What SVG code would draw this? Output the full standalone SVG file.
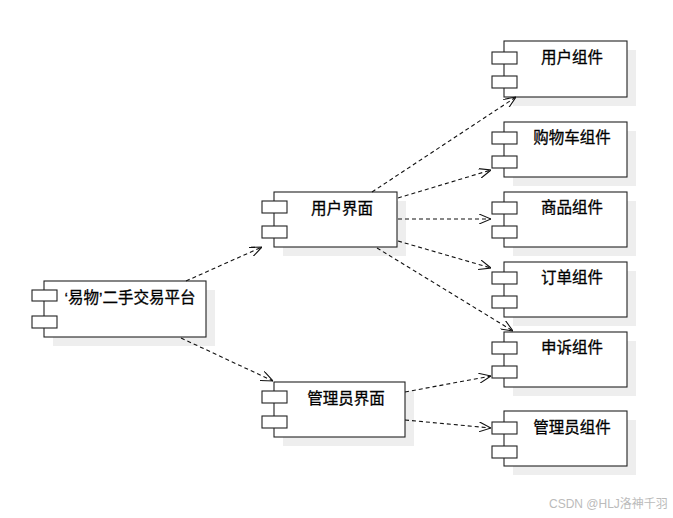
<svg xmlns="http://www.w3.org/2000/svg" width="673" height="518" viewBox="0 0 673 518">
<style>
.shadow{fill:#eeeeee;stroke:none}
.box{fill:#ffffff;stroke:#222222;stroke-width:1.1}
.port{fill:#ffffff;stroke:#222222;stroke-width:1.1}
.label{font-family:"Liberation Sans","Noto Sans CJK SC",sans-serif;font-size:15.5px;fill:#000000;stroke:#000000;stroke-width:0.3;text-anchor:middle}
.conn{fill:none;stroke:#111111;stroke-width:1.1;stroke-dasharray:4,3}
.wm{font-family:"Liberation Sans","Noto Sans CJK SC",sans-serif;font-size:12px;fill:#bbbbbb}
</style>
<defs>
<marker id="arrow" viewBox="0 0 12 10" markerWidth="12" markerHeight="10" refX="12" refY="5" orient="auto" markerUnits="userSpaceOnUse">
<path d="M0,0 L12,5 L0,10" fill="none" stroke="#111111" stroke-width="1.1"/>
</marker>
</defs>
<rect width="673" height="518" fill="#ffffff"/>

<g id="node-main">
<rect class="shadow" x="53" y="290" width="162" height="56"/>
<rect class="box" x="44" y="281" width="162" height="56"/>
<rect class="port" x="32" y="290" width="25" height="11"/>
<rect class="port" x="32" y="316" width="25" height="12"/>
<text class="label" x="130" y="303">‘易物’二手交易平台</text>
</g>

<g id="node-user-ui">
<rect class="shadow" x="283" y="201" width="123" height="55"/>
<rect class="box" x="274" y="192" width="123" height="55"/>
<rect class="port" x="262" y="201" width="25" height="12"/>
<rect class="port" x="262" y="226" width="25" height="12"/>
<text class="label" x="342" y="214">用户界面</text>
</g>

<g id="node-admin-ui">
<rect class="shadow" x="283" y="391" width="131" height="55"/>
<rect class="box" x="274" y="382" width="131" height="55"/>
<rect class="port" x="262" y="391" width="25" height="12"/>
<rect class="port" x="262" y="416" width="25" height="12"/>
<text class="label" x="346" y="404">管理员界面</text>
</g>

<g id="node-user-comp">
<rect class="shadow" x="513" y="50" width="123" height="56"/>
<rect class="box" x="504" y="41" width="123" height="56"/>
<rect class="port" x="492" y="52" width="25" height="12"/>
<rect class="port" x="492" y="76" width="25" height="12"/>
<text class="label" x="572" y="63">用户组件</text>
</g>

<g id="node-cart-comp">
<rect class="shadow" x="513" y="131" width="123" height="55"/>
<rect class="box" x="504" y="122" width="123" height="55"/>
<rect class="port" x="492" y="132" width="25" height="12"/>
<rect class="port" x="492" y="156" width="25" height="12"/>
<text class="label" x="572" y="143">购物车组件</text>
</g>

<g id="node-goods-comp">
<rect class="shadow" x="513" y="201" width="123" height="55"/>
<rect class="box" x="504" y="192" width="123" height="55"/>
<rect class="port" x="492" y="202" width="25" height="12"/>
<rect class="port" x="492" y="226" width="25" height="12"/>
<text class="label" x="572" y="213">商品组件</text>
</g>

<g id="node-order-comp">
<rect class="shadow" x="513" y="271" width="123" height="55"/>
<rect class="box" x="504" y="262" width="123" height="55"/>
<rect class="port" x="492" y="272" width="25" height="12"/>
<rect class="port" x="492" y="296" width="25" height="12"/>
<text class="label" x="572" y="283">订单组件</text>
</g>

<g id="node-complaint-comp">
<rect class="shadow" x="513" y="341" width="123" height="55"/>
<rect class="box" x="504" y="332" width="123" height="55"/>
<rect class="port" x="492" y="342" width="25" height="12"/>
<rect class="port" x="492" y="366" width="25" height="12"/>
<text class="label" x="572" y="353">申诉组件</text>
</g>

<g id="node-admin-comp">
<rect class="shadow" x="513" y="420" width="123" height="55"/>
<rect class="box" x="504" y="411" width="123" height="55"/>
<rect class="port" x="492" y="422" width="25" height="12"/>
<rect class="port" x="492" y="446" width="25" height="12"/>
<text class="label" x="572" y="433">管理员组件</text>
</g>

<g id="connectors">
<line class="conn" x1="186" y1="281" x2="262" y2="247" marker-end="url(#arrow)"/>
<line class="conn" x1="181" y1="338" x2="273" y2="381" marker-end="url(#arrow)"/>
<line class="conn" x1="372" y1="192" x2="516" y2="97" marker-end="url(#arrow)"/>
<line class="conn" x1="398" y1="198" x2="491" y2="170" marker-end="url(#arrow)"/>
<line class="conn" x1="398" y1="219" x2="491" y2="219" marker-end="url(#arrow)"/>
<line class="conn" x1="398" y1="241" x2="491" y2="268" marker-end="url(#arrow)"/>
<line class="conn" x1="377" y1="248" x2="513" y2="331" marker-end="url(#arrow)"/>
<line class="conn" x1="405" y1="392" x2="491" y2="376" marker-end="url(#arrow)"/>
<line class="conn" x1="405" y1="420" x2="491" y2="428" marker-end="url(#arrow)"/>
</g>

<text class="wm" x="549" y="508">CSDN @HLJ洛神千羽</text>
</svg>
